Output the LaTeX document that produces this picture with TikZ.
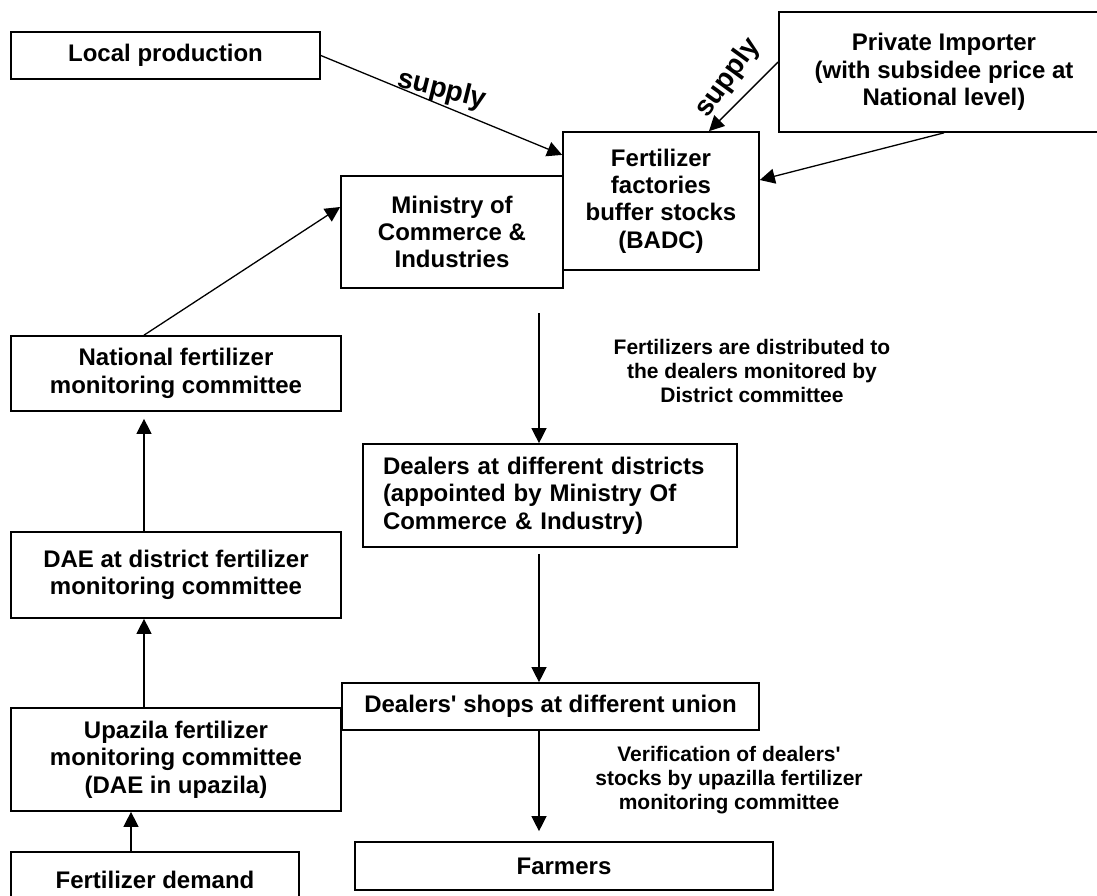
\documentclass[tikz,border=0pt]{standalone}
\usepackage{fontspec}
\setmainfont{Liberation Sans}[Ligatures=TeXOff]
\usetikzlibrary{arrows.meta}

\begin{document}
\begin{tikzpicture}[x=0.5pt, y=-0.5pt,
  flowbox/.style={draw, line width=0.85pt, fill=white, align=center,
    font=\fontsize{12}{13.7}\selectfont\bfseries, inner sep=2pt},
  note/.style={align=center, font=\fontsize{10.5}{12}\selectfont\bfseries},
  supplylabel/.style={font=\fontsize{14}{16}\selectfont\bfseries},
  arr/.style={-{Triangle[length=7.5pt, width=7.5pt]}, line width=0.65pt},
]
\useasboundingbox (0,0) rectangle (1097,895);
\clip (0,0) rectangle (1097,895);

% supply side
\node[flowbox, minimum width=154.5pt, minimum height=23.5pt] (loc)
  at (165.5,55.5) {Local production};
\node[flowbox, minimum width=165pt, minimum height=60pt] (imp)
  at (944,72) {Private Importer\\(with subsidee price at\\National level)};
\node[flowbox, minimum width=111pt, minimum height=56pt] (min)
  at (452,232) {Ministry of\\Commerce \&\\Industries};
\node[flowbox, minimum width=98pt, minimum height=69pt] (fac)
  at (661,201) {Fertilizer\\factories\\buffer stocks\\(BADC)};

% monitoring chain on the left
\node[flowbox, minimum width=165pt, minimum height=37.5pt] (nat)
  at (176,373.5) {National fertilizer\\monitoring committee};
\node[flowbox, minimum width=165pt, minimum height=43pt] (dae)
  at (176,575) {DAE at district fertilizer\\monitoring committee};
\node[flowbox, minimum width=165pt, minimum height=51.5pt] (upa)
  at (176,759.5) {Upazila fertilizer\\monitoring committee\\(DAE in upazila)};
\node[flowbox, minimum width=144pt, minimum height=28pt] (dem)
  at (155,880) {Fertilizer demand};

% distribution chain in the middle
\node[flowbox, align=left, text width=167pt, inner xsep=10pt,
  minimum height=51.5pt] (dist) at (550,495.5)
  {Dealers at different districts\\(appointed by Ministry Of\\Commerce \& Industry)};
\node[flowbox, minimum width=208.5pt, minimum height=23.5pt] (shop)
  at (550.5,706.5) {Dealers' shops at different union};
\node[flowbox, minimum width=209pt, minimum height=24pt] (farm)
  at (564,866) {Farmers};

% connectors
\draw[arr] (loc.east) -- (fac.155);
\draw[arr] ([yshift=5pt]imp.west) -- ([xshift=24pt]fac.north);
\draw[arr] (imp.south) -- ([yshift=10.5pt]fac.east);
\draw[arr] ([xshift=-16pt]nat.north) -- ([yshift=12.5pt]min.west);
\draw[arr, shorten >=3.5pt] ([xshift=-16pt]dae.north) -- ([xshift=-16pt]nat.south);
\draw[arr] ([xshift=-16pt]upa.north) -- ([xshift=-16pt]dae.south);
\draw[arr] ([xshift=-12pt]dem.north) -- ([xshift=-22.5pt]upa.south);
\coordinate (dtop) at (539,313);
\draw[arr] (dtop) -- (dtop |- dist.north);
\draw[arr, shorten <=3pt] (dtop |- dist.south) -- (dtop |- shop.north);
\draw[arr, shorten >=5pt] (dtop |- shop.south) -- (dtop |- farm.north);

% labels
\node[supplylabel, rotate=-14] (sup1) at (442,90) {supply};
\node[supplylabel, rotate=54] (sup2) at (728,78) {supply};
\node[note] (distnote) at (752,371)
  {Fertilizers are distributed to\\the dealers monitored by\\District committee};
\node[note] (vernote) at (729,780)
  {Verification of dealers'\\stocks by upazilla fertilizer\\monitoring committee};
\end{tikzpicture}
\end{document}
